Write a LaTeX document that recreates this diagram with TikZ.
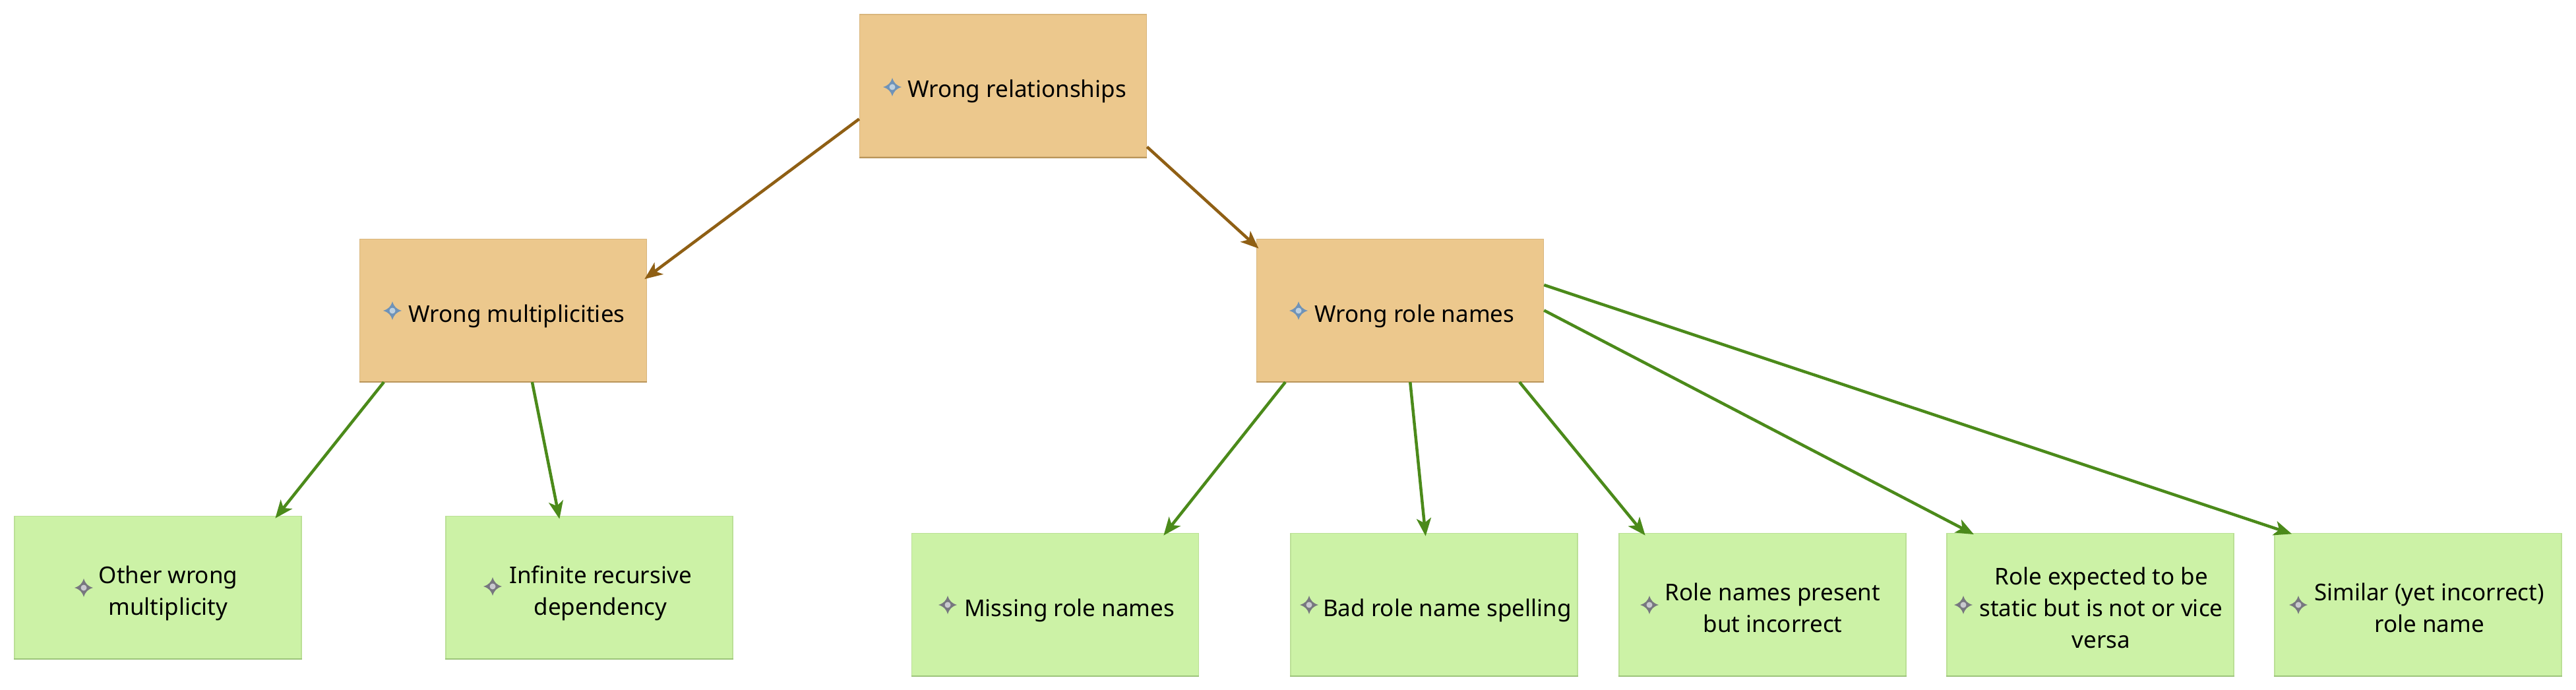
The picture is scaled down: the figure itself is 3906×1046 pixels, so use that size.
\documentclass[tikz,border=0pt]{standalone}
\usepackage{fontspec}
\setmainfont{Noto Sans}
\usetikzlibrary{arrows.meta}
\definecolor{orangefill}{HTML}{ECC88D}
\definecolor{orangeline}{HTML}{D9B67C}
\definecolor{orangeedge}{HTML}{B9955A}
\definecolor{greenfill}{HTML}{CCF2A6}
\definecolor{greenline}{HTML}{BBE096}
\definecolor{greenedge}{HTML}{9CC47A}
\definecolor{brownarrow}{HTML}{8F5F14}
\definecolor{greenarrow}{HTML}{4B8A1A}
\definecolor{sparkblue}{HTML}{6F93B8}
\definecolor{sparkbluein}{HTML}{BDD0E0}
\definecolor{sparkgrey}{HTML}{77777F}
\definecolor{sparkgreyin}{HTML}{C9C9CF}
% text set on the node centre, shifted by #1 to clear the icon
\newcommand{\boxtext}[2]{\raisebox{-14.5pt}[0pt][0pt]{\makebox[0pt]{\hspace*{#1}\begin{tabular}{@{}c@{}}#2\end{tabular}}}}
\newcommand{\sparkle}[4]{%
  \begin{scope}[shift={(#1,#2)}]
    \fill[#3] (0,-14) .. controls (2.5,-6) and (6,-2.5) .. (14,0)
      .. controls (6,2.5) and (2.5,6) .. (0,14)
      .. controls (-2.5,6) and (-6,2.5) .. (-14,0)
      .. controls (-6,-2.5) and (-2.5,-6) .. (0,-14) -- cycle;
    \fill[#4] (0,0) circle (4.5);
  \end{scope}}
\tikzset{
  basebox/.style={rectangle,minimum width=435pt,minimum height=216pt,inner sep=0pt,line width=1.5pt,
    font=\fontsize{35}{48}\selectfont,text=black},
  orangebox/.style={basebox,fill=orangefill,draw=orangeline},
  greenbox/.style={basebox,fill=greenfill,draw=greenline},
  link/.style={line width=4.5pt,shorten >=-5pt,-{Stealth[length=27pt,width=22pt,inset=7pt]}},
  brownlink/.style={link,draw=brownarrow,color=brownarrow},
  greenlink/.style={link,draw=greenarrow,color=greenarrow},
}
\begin{document}
\begin{tikzpicture}[x=1pt,y=-1pt]
\useasboundingbox (0,0) rectangle (3906,1046);
\node[orangebox] (root) at (1521,130) {\boxtext{42pt}{Wrong relationships}};
\node[orangebox] (mult) at (763,470.5) {\boxtext{41pt}{Wrong multiplicities}};
\node[orangebox] (role) at (2123,470.5) {\boxtext{44pt}{Wrong role names}};
\node[greenbox] (other) at (239.5,890.5) {\boxtext{31pt}{Other wrong\\multiplicity}};
\node[greenbox] (infinite) at (893.5,890.5) {\boxtext{34pt}{Infinite recursive\\dependency}};
\node[greenbox] (missing) at (1600,916.5) {\boxtext{43pt}{Missing role names}};
\node[greenbox] (bad) at (2174.5,916.5) {\boxtext{40pt}{Bad role name spelling}};
\node[greenbox] (present) at (2672.5,916.5) {\boxtext{31pt}{Role names present\\but incorrect}};
\node[greenbox] (static) at (3169.5,916.5) {\boxtext{33pt}{Role expected to be\\static but is not or vice\\versa}};
\node[greenbox] (similar) at (3666.5,916.5) {\boxtext{34pt}{Similar (yet incorrect)\\role name}};
% darker bottom and right edges
\foreach \n in {root,mult,role}
  \draw[orangeedge,line width=2pt] (\n.south west) -- (\n.south east);
\foreach \n in {other,infinite,missing,bad,present,static,similar}
  \draw[greenedge,line width=2pt] (\n.south west) -- (\n.south east);
% icons
\foreach \x/\y in {1353/132,595/471,1969/471}
  \sparkle{\x}{\y}{sparkblue}{sparkbluein};
\foreach \x/\y in {127/891,747/889,1437/917,1985/917,2501/917,2977/917,3485/917}
  \sparkle{\x}{\y}{sparkgrey}{sparkgreyin};
% connectors
\draw[brownlink] (root.193.5) -- (mult.13.5);
\draw[brownlink] (root.-23) -- (role.156.9);
\draw[greenlink] (mult.211) -- (other.31.5);
\draw[greenlink] (mult.-68.8) -- (infinite.113);
\draw[greenlink] (role.212.1) -- (missing.33);
\draw[greenlink] (role.-82.6) -- (bad.97.5);
\draw[greenlink] (role.-31.2) -- (present.149.6);
\draw[greenlink] (role.-0.7) -- (static.149.7);
\draw[greenlink] (role.10.3) -- (similar.151.4);
\end{tikzpicture}
\end{document}
